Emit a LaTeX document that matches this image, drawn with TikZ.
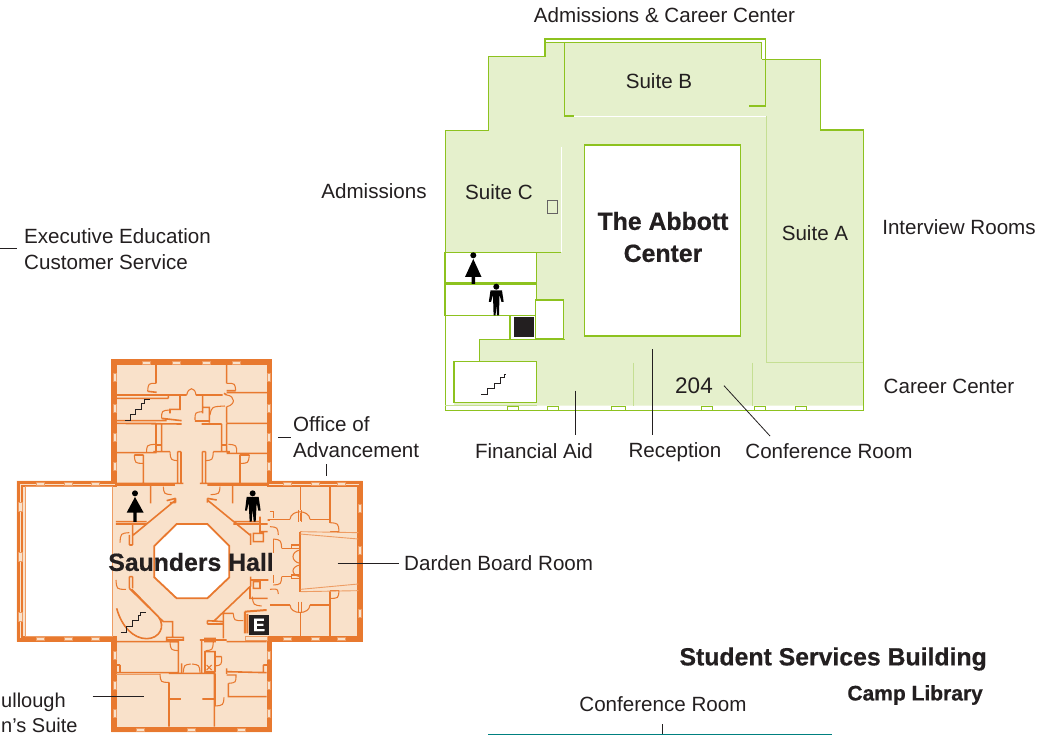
\documentclass[tikz,border=0pt]{standalone}
\usepackage{fontspec}
\setmainfont{Liberation Sans}
\newfontfamily\heavyfont[FakeBold=0.6]{Liberation Sans Bold}
\definecolor{org}{HTML}{E8792F}
\definecolor{orgl}{HTML}{EE9C63}
\definecolor{peach}{HTML}{F9E1CA}
\definecolor{grn}{HTML}{8DC21F}
\definecolor{grnl}{HTML}{C5DF93}
\definecolor{lime}{HTML}{E5F0CC}
\definecolor{ink}{HTML}{231F20}
\definecolor{tealline}{HTML}{008080}
\tikzset{
  lab/.style={font=\fontsize{20.6}{26}\selectfont,text=ink,inner sep=0pt,align=left},
  room/.style={font=\fontsize{20.6}{26}\selectfont,text=ink,inner sep=0pt,align=center},
  title/.style={font=\fontsize{24.8}{32}\selectfont\heavyfont,text=ink,inner sep=0pt,align=center},
  subt/.style={font=\fontsize{21}{26}\selectfont\heavyfont,text=ink,inner sep=0pt},
  leader/.style={draw=ink,line width=0.8pt},
  wallo/.style={draw=org,line width=3.4pt,line join=miter},
  walli/.style={draw=org,line width=2pt},
  wall/.style={draw=org,line width=1.6pt},
  door/.style={draw=org,line width=1.05pt},
  thin/.style={draw=orgl,line width=0.9pt},
  win/.style={draw=orgl,fill=peach,line width=0.8pt},
  gline/.style={draw=grn,line width=1.2pt},
  gsoft/.style={draw=grnl,line width=1pt},
  gwhite/.style={draw=white,line width=0.9pt},
  gwin/.style={draw=grn,fill=white,line width=1.2pt},
  stairs/.style={draw=ink,line width=1pt},
  icon/.style={fill=black,draw=none}
}
\begin{document}
\begin{tikzpicture}[x=1pt,y=-1pt]
\useasboundingbox (0,0) rectangle (1042,735);
\fill[white] (0,0) rectangle (1042,735);

%% ---------- The Abbott Center ----------
\fill[lime] (445.3,130.7) -- (488.7,130.7) -- (488.7,56.7) -- (545,56.7) -- (545,42.3) -- (761.7,42.3) -- (761.7,59.3) -- (820.7,59.3) -- (820.7,130) -- (863.3,130) -- (863.3,405.7) -- (445.3,405.7) -- cycle;
% white rooms
\fill[white] (445.3,315.3) -- (510,315.3) -- (510,339.3) -- (479.3,339.3) -- (479.3,361.7) -- (454,361.7) -- (454,405.7) -- (445.3,405.7) -- cycle;
\draw[gline,fill=white] (584.7,145) rectangle (740.7,336);
\draw[gline,fill=white] (444.3,252.3) rectangle (536.7,282.7);
\draw[gline,fill=white] (444.3,284) rectangle (536.7,315.3);
\draw[gline,fill=white] (535.3,300) rectangle (563.3,338.7);
\draw[gline,fill=white] (510,315.3) rectangle (535.3,339.3);
\fill[ink] (514,317.3) rectangle (534,337.3);
\draw[gline,fill=white] (454,361.7) rectangle (536.7,402.7);
% outline
\draw[gline] (765.3,59.3) -- (765.3,39) -- (545,39) -- (545,56.7) -- (488.7,56.7) -- (488.7,130.7) -- (445.3,130.7) -- (445.3,410.3) -- (863.3,410.3) -- (863.3,130) -- (820.7,130) -- (820.7,59.3) -- (761.7,59.3);
\draw[gline] (545,42.3) -- (761.7,42.3) -- (761.7,59.3);
\draw[gline] (574,116) -- (564.7,116) -- (564.7,42.3);
\draw[gline] (765.3,59.3) -- (765.3,106) -- (749,106);
\draw[gline] (444.3,252.3) -- (560.7,252.3);
\draw[gline] (479.3,361.7) -- (479.3,339.3) -- (565,339.3);
\draw[gsoft] (445.3,405.7) -- (536.7,405.7);
\draw[gwhite] (574,116.5) -- (766.7,116.5);
\draw[gwhite] (561.7,147) -- (561.7,252);
\draw[gsoft] (766.7,116) -- (766.7,362.7) -- (863.3,362.7);
\draw[gsoft] (633.7,362.7) -- (633.7,405.7);
\draw[gsoft] (752,362.7) -- (752,405.7);
\draw[draw=ink!70,line width=0.7pt] (547.7,200.7) rectangle (557.3,213.3);
\foreach \wx/\ww in {512.7/11,553.3/11,618.3/14,707.3/11,760/11,801/11}
  \draw[gwin] (\wx-\ww/2,406.2) rectangle (\wx+\ww/2,410.3);
% icons
\fill[icon] (473.3,255.3) circle (3);
\fill[icon] (473.3,259) -- (481.5,277) -- (475,277) -- (475,284) -- (471.6,284) -- (471.6,277) -- (465,277) -- cycle;
\fill[icon] (496.3,286.7) circle (3);
\fill[icon] (490.5,290.5) -- (502,290.5) -- (503.7,302) -- (501.5,302) -- (499.5,295) -- (499,315.5) -- (497,315.5) -- (496.3,304) -- (495.6,315.5) -- (493.6,315.5) -- (493,295) -- (491,302) -- (488.8,302) -- cycle;
\draw[stairs] (481,394.7) -- (487,394.7) -- (487,389) -- (494,389) -- (494,383.5) -- (500,383.5) -- (500,378) -- (504,378) -- (504,374.3) -- (506,374.3);

%% ---------- Saunders Hall, drawn in 3x crop coordinates ----------
\begin{scope}[shift={(0,350)},x=0.33333pt,y=-0.33333pt]
\fill[peach] (334,28) -- (816,28) -- (816,392) -- (1088,392) -- (1088,875) -- (816,875) -- (816,1147) -- (334,1147) -- (334,875) -- (50,875) -- (50,392) -- (334,392) -- cycle;
\draw[wallo] (339,33) -- (811,33) -- (811,397) -- (1083,397) -- (1083,870) -- (811,870) -- (811,1142) -- (339,1142) -- (339,870) -- (55,870) -- (55,397) -- (339,397) -- cycle;
\draw[walli] (348,42) -- (803,42) -- (803,407) -- (1075,407) -- (1075,860) -- (803,860) -- (803,1135) -- (348,1135) -- (348,860) -- (66,860) -- (66,407) -- (348,407) -- cycle;
\draw[thin,fill=white] (76,408) rectangle (336,858);
% windows
\foreach \wx in {438,530,618,708} \draw[win] (\wx-12,33) rectangle (\wx+12,42);
\foreach \wx in {422,575,725} \draw[win] (\wx-12,1134) rectangle (\wx+12,1143);
\foreach \wy in {83,175,263,350,915,1005,1090} {
  \draw[win] (339,\wy-12) rectangle (348,\wy+12);
  \draw[win] (803,\wy-12) rectangle (811,\wy+12);}
\foreach \wx in {122,205,285,862,945,1025} {
  \draw[win] (\wx-12,397) rectangle (\wx+12,406);
  \draw[win] (\wx-12,861) rectangle (\wx+12,870);}
\foreach \wy in {470,620,800} \draw[win] (55,\wy-14) rectangle (66,\wy+14);
\foreach \wy in {475,600,790} \draw[win] (1075,\wy-12) rectangle (1083,\wy+12);
% octagon
\draw[wall,fill=white,line width=1.8pt] (530,522) -- (622,522) -- (688,588) -- (688,682) -- (622,745) -- (530,745) -- (463,682) -- (463,588) -- cycle;
% top wing walls
\draw[wall] (468,42) -- (468,100) (443,124) -- (470,127)
 (348,135) -- (540,135) -- (540,178) -- (510,178) -- (510,190) (348,145) -- (505,145)
 (505,135) -- (505,145) (342,212) -- (500,212) (342,220) -- (545,222) (485,205) -- (545,212)
 (560,135) -- (540,135) (588,135) -- (608,135) -- (608,190) (608,135) -- (668,135)
 (680,42) -- (680,100) (680,122) -- (707,122) (680,128) -- (803,128) (672,130) -- (680,135) (680,170) -- (680,218)
 (610,172) -- (628,172) -- (628,218) (585,213) -- (628,213) (605,222) -- (665,222) (680,220) -- (803,220)
 (665,222) -- (665,305) (680,220) -- (680,305) (665,285) -- (680,285) (640,305) -- (690,305) (680,310) -- (803,310)
 (720,315) -- (748,315) (720,315) -- (720,400)
 (348,220) -- (468,220) (468,220) -- (468,305) (485,222) -- (485,305) (468,285) -- (485,285) (460,305) -- (510,305)
 (348,308) -- (470,308) (403,315) -- (430,315) (430,315) -- (430,400)
 (533,305) -- (533,400) (543,305) -- (543,400) (533,305) -- (543,305)
 (607,305) -- (607,400) (617,305) -- (617,400) (607,305) -- (617,305)
 (348,400) -- (550,400) (600,400) -- (803,400);
\draw[door] (468,100) .. controls (445,100) .. (443,124)
 (560,135) .. controls (565,110) and (585,110) .. (588,135)
 (510,180) .. controls (485,182) .. (485,205)
 (608,185) .. controls (585,187) .. (585,210)
 (680,100) .. controls (705,100) .. (707,122)
 (680,135) .. controls (707,138) and (707,165) .. (680,170)
 (630,195) .. controls (635,170) .. (675,168)
 (465,283) .. controls (440,285) .. (440,308)
 (403,315) .. controls (405,340) .. (430,340)
 (510,305) .. controls (512,330) .. (533,332)
 (640,305) .. controls (638,330) .. (617,332)
 (685,283) .. controls (710,285) .. (710,310)
 (748,315) .. controls (745,340) .. (720,340);
% middle left
\draw[wall] (348,405) -- (525,405) (452,405) -- (452,460)
 (348,515) -- (440,515) (348,522) -- (440,522) (398,525) -- (398,555)
 (527,450) -- (400,555) (527,458) -- (510,458) (500,452) -- (527,445) (527,445) -- (527,458)
 (388,555) -- (388,585) (398,555) -- (398,585) (388,585) -- (398,585)
 (388,680) -- (388,715) (398,680) -- (398,715) (388,680) -- (398,680);
\draw[door] (490,410) .. controls (492,432) .. (515,434)
 (360,578) .. controls (362,550) .. (388,548)
 (348,690) .. controls (350,718) .. (378,718);
% stair oval
\draw[wall] (350,775) .. controls (365,830) and (400,866) .. (440,866) .. controls (478,866) and (498,830) .. (475,800) -- (395,718)
 (388,715) -- (490,815) -- (518,815) -- (518,860)
 (500,862) rectangle (550,870) (348,875) -- (535,875);
% middle right
\draw[wall] (622,405) -- (803,405) (698,405) -- (698,460)
 (622,450) -- (750,555) (622,445) -- (650,450) (622,445) -- (622,458)
 (700,515) -- (780,515) (700,522) -- (803,522) (752,550) -- (752,585) (760,550) rectangle (790,575)
 (780,500) -- (780,545) -- (803,545) (803,510) -- (810,510)
 (755,690) -- (805,690) (760,695) rectangle (780,715) (750,710) -- (750,745) -- (803,745) (752,680) -- (752,710)
 (750,710) -- (640,815) (622,812) -- (670,815) (622,822) -- (670,822) (622,812) -- (622,822)
 (670,790) -- (700,790) (670,790) -- (670,865);
\draw[door] (660,410) .. controls (658,432) .. (632,434)
 (700,790) .. controls (702,812) .. (730,812)
 (757,740) .. controls (760,765) .. (785,768);
\draw[walli] (735,785) -- (735,850) (742,792) -- (742,850) (735,785) -- (800,780);
\fill[peach] (735,858) rectangle (803,870);
\draw[thin] (735,858) rectangle (803,870);
% right wing
\draw[wall] (902,408) -- (902,480) (902,488) -- (902,512) (810,508) -- (870,508) (930,508) -- (990,508)
 (990,408) -- (990,518) (990,545) -- (1017,545)
 (810,485) -- (820,485) -- (820,505)
 (895,480) -- (895,515) (905,480) -- (905,515)
 (820,567) -- (820,610) (845,595) -- (875,595) (875,585) rectangle (900,595)
 (875,675) rectangle (900,685) (845,680) -- (875,680) (820,675) -- (820,700)
 (810,765) -- (870,765) (930,765) -- (990,765) (895,755) -- (895,790) (905,755) -- (905,790)
 (902,790) -- (902,860) (990,722) -- (990,860) (990,722) -- (1017,722);
\draw[wall] (900,545) -- (900,725);
\draw[thin] (900,545) -- (1075,548) (900,552) -- (1075,567) (902,718) -- (1075,702) (902,725) -- (1075,722);
\draw[door] (870,508) .. controls (872,478) and (928,478) .. (930,508)
 (870,765) .. controls (872,795) and (928,795) .. (930,765)
 (990,518) .. controls (1015,520) .. (1017,545)
 (810,530) .. controls (833,532) .. (835,555)
 (820,567) .. controls (843,570) .. (845,595)
 (845,680) .. controls (843,703) .. (820,705)
 (810,718) .. controls (833,716) .. (835,732)
 (1017,722) .. controls (1015,745) .. (990,745)
 (900,600) .. controls (872,605) and (872,635) .. (900,640)
 (900,645) .. controls (872,650) and (872,675) .. (900,680);
% bottom wing
\draw[wall] (535,870) -- (535,970) (510,875) -- (535,875) (545,940) -- (545,970)
 (348,968) -- (535,968) (507,997) -- (507,1130) (507,1047) -- (543,1047) (607,1047) -- (643,1047)
 (507,970) -- (645,970) (643,965) -- (643,1130) (645,970) -- (645,1068)
 (605,870) -- (605,968) (615,905) rectangle (645,965) (615,865) rectangle (645,875)
 (600,870) -- (680,870) (680,875) -- (800,875) (680,965) -- (800,968) (680,955) -- (680,972)
 (685,1000) -- (685,1040) -- (800,1040) (645,920) -- (665,920) (360,945) -- (360,968) (350,945) -- (360,945)
 (790,945) -- (790,965) (790,945) -- (803,945);
\draw[thin] (348,972) -- (480,972);
\draw[door] (510,875) .. controls (512,900) .. (535,902)
 (640,875) .. controls (638,900) .. (617,902)
 (550,968) .. controls (552,945) .. (572,942) (600,968) .. controls (598,945) .. (576,942)
 (480,972) .. controls (482,997) .. (507,997)
 (665,920) .. controls (665,945) .. (645,948)
 (680,975) .. controls (708,975) .. (708,975) .. controls (708,998) .. (685,1000)
 (672,1042) .. controls (670,1066) .. (645,1068)
 (620,945) -- (635,960) (620,960) -- (635,945);
% stairs
\draw[stairs] (375,212) -- (392,212) -- (392,195) -- (408,195) -- (408,178) -- (425,178) -- (425,162) -- (433,162) -- (433,150) -- (450,150);
\draw[stairs] (362,848) -- (380,848) -- (380,830) -- (398,830) -- (398,812) -- (415,812) -- (415,797) -- (422,797) -- (422,787) -- (437,787);
% restroom icons
\fill[icon] (405,430) circle (3pt);
\fill[icon] (405,441) -- (431,488) -- (410,488) -- (410,516) -- (400,516) -- (400,488) -- (380,488) -- cycle;
\fill[icon] (758,430) circle (3pt);
\fill[icon] (740,441) -- (776,441) -- (782,482) -- (775,482) -- (770,458) -- (767,515) -- (761,515) -- (758,478) -- (755,515) -- (749,515) -- (746,458) -- (741,482) -- (735,482) -- cycle;
\end{scope}
\node[fill=ink,text=white,font=\fontsize{18}{18}\selectfont\heavyfont,minimum size=19.7pt,inner sep=0pt] (elev) at (259,625) {E};

%% ---------- labels ----------
\node[room] (nadm) at (664.5,15) {Admissions \& Career Center};
\node[room] (nsb) at (659,81) {Suite B};
\node[room] (nadmis) at (374,191) {Admissions};
\node[room] (nsc) at (499,192) {Suite C};
\node[room] (nint) at (959,227) {Interview Rooms};
\node[room] (nsa) at (815,233) {Suite A};
\node[title] (nabb) at (663,237) {The Abbott\\Center};
\node[room] (ncar) at (949,386) {Career Center};
\node[room,font=\fontsize{22.5}{26}\selectfont] (n204) at (694,386) {204};
\node[room] (nfin) at (534,451.5) {Financial Aid};
\node[room] (nrec) at (675,452.5) {Reception};
\node[room] (ncon) at (829,451) {Conference Room};
\node[lab,anchor=west] (nexe) at (24,249) {Executive Education\\Customer Service};
\node[lab,anchor=west] (noff) at (293,437) {Office of\\Advancement};
\node[lab,anchor=west] (ndar) at (404,563) {Darden Board Room};
\node[title] (nsau) at (191,562) {Saunders Hall};
\node[lab,anchor=base west,font=\fontsize{20}{26}\selectfont] (nmca) at (1,707) {ullough};
\node[lab,anchor=base west,font=\fontsize{20}{26}\selectfont] (nmcb) at (1,732.5) {n’s Suite};
\node[title,anchor=east] (nstu) at (987,659) {Student Services Building};
\node[subt,anchor=east] (ncam) at (983,695) {Camp Library};
\node[room] (nlow) at (663,704) {Conference Room};

%% ---------- leaders ----------
\coordinate (fa1) at (575.3,390.7); \coordinate (fa2) at (575.3,435);
\draw[leader] (fa1) -- (fa2);
\coordinate (re1) at (652.7,349.3); \coordinate (re2) at (652.7,435);
\draw[leader] (re1) -- (re2);
\coordinate (cr1) at (724,385.7); \coordinate (cr2) at (770,436);
\draw[leader] (cr1) -- (cr2);
\coordinate (ex1) at (0,248); \coordinate (ex2) at (17,248);
\draw[leader] (ex1) -- (ex2);
\coordinate (of1) at (278,437.7); \coordinate (of2) at (290.7,437.7);
\draw[leader] (of1) -- (of2);
\coordinate (of3) at (326.7,464); \coordinate (of4) at (326.7,476);
\draw[leader] (of3) -- (of4);
\coordinate (da1) at (337.7,563.3); \coordinate (da2) at (399,563.3);
\draw[leader] (da1) -- (da2);
\coordinate (mc1) at (92.7,696); \coordinate (mc2) at (144,696);
\draw[leader] (mc1) -- (mc2);
\coordinate (lo1) at (662.7,724.3); \coordinate (lo2) at (662.7,734);
\draw[leader] (lo1) -- (lo2);
\coordinate (tl1) at (488,734.3); \coordinate (tl2) at (831.7,734.3);
\draw[draw=tealline,line width=1.2pt] (tl1) -- (tl2);
\end{tikzpicture}
\end{document}
